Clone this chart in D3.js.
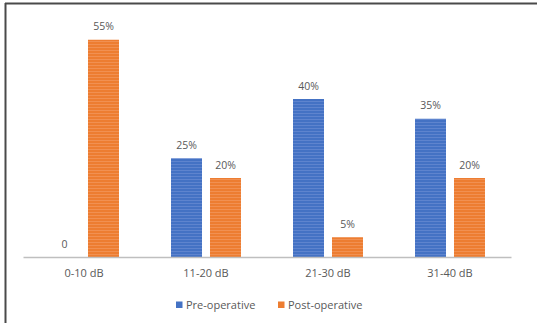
<!DOCTYPE html>
<html>
<head>
<meta charset="utf-8">
<script src="https://cdn.jsdelivr.net/npm/d3@7"></script>
<style>
  html, body { margin: 0; padding: 0; background: #fff; }
  svg { display: block; }
  text { font-family: "Open Sans", "Liberation Sans", Arial, sans-serif; fill: #595959; }
</style>
</head>
<body>
<svg id="chart" width="537" height="323"></svg>
<script>
const categories = ["0-10 dB", "11-20 dB", "21-30 dB", "31-40 dB"];
const seriesNames = ["Pre-operative", "Post-operative"];
const preValues = [0, 25, 40, 35];
const postValues = [55, 20, 5, 20];
const preLabels = ["0", "25%", "40%", "35%"];
const postLabels = ["55%", "20%", "5%", "20%"];
const colors = ["#4472C4", "#ED7D31"];
const stripeColors = ["#6B8FD3", "#F39B63"];

const svg = d3.select("#chart");
const W = 537, H = 323;

// frame (left and top edges)
svg.append("line").attr("x1", 5.5).attr("x2", 5.5).attr("y1", 3).attr("y2", H)
  .attr("stroke", "#4a4a4a").attr("stroke-width", 2);
svg.append("line").attr("x1", 5).attr("x2", W).attr("y1", 3.5).attr("y2", 3.5)
  .attr("stroke", "#4a4a4a").attr("stroke-width", 2);

// stripe patterns
const defs = svg.append("defs");
colors.forEach((c, i) => {
  const p = defs.append("pattern").attr("id", "pat" + i)
    .attr("patternUnits", "userSpaceOnUse").attr("width", 6).attr("height", 3);
  p.append("rect").attr("width", 6).attr("height", 3).attr("fill", c);
  p.append("rect").attr("y", 2).attr("width", 6).attr("height", 0.8).attr("fill", stripeColors[i]).attr("opacity", 0.8);
});

const x0 = d3.scaleBand().domain(categories).range([23, 511]).padding(0);
const x1 = d3.scaleBand().domain(seriesNames).range([0, x0.bandwidth()])
  .paddingInner(0.205).paddingOuter(0.667);
const y = d3.scaleLinear().domain([0, 60]).range([257, 20]);

const data = categories.map((c, i) => ({
  cat: c,
  vals: [
    { s: seriesNames[0], v: preValues[i], label: preLabels[i], idx: 0 },
    { s: seriesNames[1], v: postValues[i], label: postLabels[i], idx: 1 }
  ]
}));

const groups = svg.append("g").selectAll("g").data(data).join("g")
  .attr("transform", d => `translate(${x0(d.cat)},0)`);

groups.selectAll("rect").data(d => d.vals).join("rect")
  .attr("x", d => x1(d.s))
  .attr("y", d => y(d.v))
  .attr("width", x1.bandwidth())
  .attr("height", d => y(0) - y(d.v))
  .attr("fill", d => `url(#pat${d.idx})`);

groups.selectAll("text.lbl").data(d => d.vals).join("text")
  .attr("class", "lbl")
  .attr("x", d => x1(d.s) + x1.bandwidth() / 2)
  .attr("y", d => y(d.v) - 9.5)
  .attr("text-anchor", "middle")
  .attr("font-size", 10.5)
  .text(d => d.label);

// x axis
const xAxis = d3.axisBottom(x0).tickSize(0).tickPadding(12);
const gx = svg.append("g").attr("transform", `translate(0,${y(0)})`).call(xAxis);
gx.select(".domain").attr("stroke", "#bfbfbf").attr("stroke-width", 1.5);
gx.selectAll("text").attr("font-size", 11).attr("fill", "#595959")
  .style("font-family", '"Open Sans", "Liberation Sans", Arial, sans-serif');

// legend
const legend = svg.append("g");
const legendItems = [
  { name: seriesNames[0], x: 176 },
  { name: seriesNames[1], x: 278 }
];
legendItems.forEach((it, i) => {
  legend.append("rect").attr("x", it.x).attr("y", 301.5).attr("width", 6.5).attr("height", 6.5).attr("fill", colors[i]);
  legend.append("text").attr("x", it.x + 10).attr("y", 308.5).attr("font-size", 11).text(it.name);
});
</script>
</body>
</html>
